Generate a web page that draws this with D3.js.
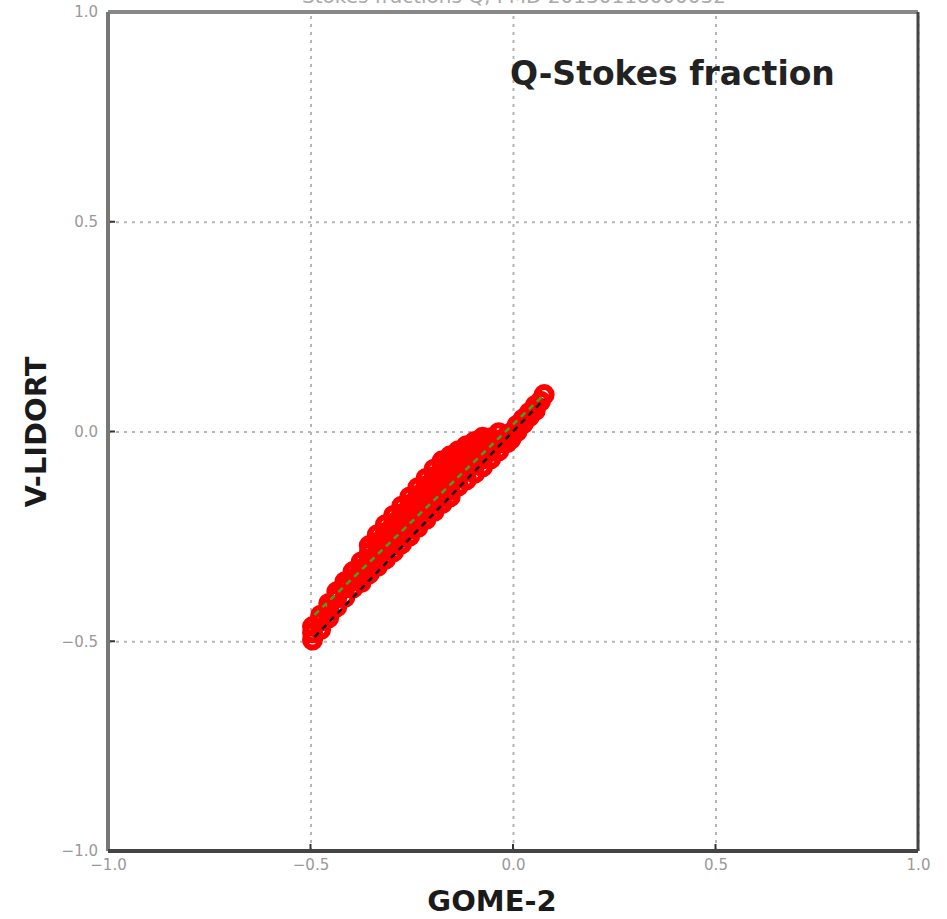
<!DOCTYPE html>
<html>
<head>
<meta charset="utf-8">
<script src="https://cdn.jsdelivr.net/npm/d3@7"></script>
<style>
  body { margin: 0; background: #fff; }
  svg { display: block; }
</style>
</head>
<body>
<div id="chart-area"></div>
<script>
// scatter columns: GOME-2 value and the V-LIDORT values seen at that value
var gomeCols = [-0.495, -0.475, -0.455, -0.435, -0.415, -0.395, -0.375, -0.355, -0.335, -0.315,
    -0.295, -0.275, -0.255, -0.235, -0.215, -0.195, -0.175, -0.155, -0.135, -0.115,
    -0.095, -0.075, -0.055, -0.035, -0.015, -0.005, 0.01, 0.025, 0.04, 0.055, 0.068, 0.077];
var lidortCols = [
    [-0.497, -0.48, -0.465],
    [-0.472, -0.452, -0.438],
    [-0.444, -0.424, -0.41],
    [-0.418, -0.397, -0.382],
    [-0.395, -0.373, -0.358],
    [-0.373, -0.35, -0.334],
    [-0.36, -0.344, -0.328, -0.311],
    [-0.339, -0.323, -0.305, -0.288, -0.272],
    [-0.322, -0.306, -0.285, -0.264, -0.246],
    [-0.305, -0.289, -0.265, -0.241, -0.222],
    [-0.287, -0.271, -0.253, -0.235, -0.218, -0.2],
    [-0.268, -0.252, -0.233, -0.214, -0.196, -0.178],
    [-0.249, -0.233, -0.213, -0.193, -0.174, -0.156],
    [-0.229, -0.213, -0.193, -0.172, -0.152, -0.134],
    [-0.21, -0.194, -0.173, -0.152, -0.13, -0.112],
    [-0.191, -0.175, -0.153, -0.13, -0.108, -0.09],
    [-0.172, -0.156, -0.132, -0.108, -0.085, -0.07],
    [-0.156, -0.14, -0.118, -0.095, -0.073, -0.058],
    [-0.13, -0.107, -0.084, -0.062, -0.046],
    [-0.115, -0.093, -0.072, -0.05, -0.034],
    [-0.1, -0.079, -0.058, -0.038, -0.024],
    [-0.084, -0.065, -0.046, -0.027, -0.014],
    [-0.065, -0.048, -0.032, -0.015],
    [-0.046, -0.028, -0.003],
    [-0.027, -0.01],
    [-0.018, -0.003],
    [0.0, 0.015],
    [0.018, 0.03],
    [0.035, 0.045],
    [0.05, 0.062],
    [0.072],
    [0.088]
];

// end points of the 1:1 line and of the fitted line
var oneToOneX = [-0.49, 0.077];
var oneToOneY = [-0.49, 0.077];
var fitX = [-0.49, 0.077];
var fitY = [-0.437, 0.088];

var tickValues = [-1.0, -0.5, 0.0, 0.5, 1.0];

var margin = { top: 12, bottom: 68, left: 108, right: 29 };
var width = 947 - margin.left - margin.right,
    height = 919 - margin.top - margin.bottom;

var svg = d3.select("#chart-area")
    .append("svg")
        .attr("width", 947)
        .attr("height", 919);

var g = svg.append("g")
    .attr("transform", "translate(" + margin.left + "," + margin.top + ")");

var x = d3.scaleLinear().domain([-1, 1]).range([0, width]);
var y = d3.scaleLinear().domain([-1, 1]).range([height, 0]);

// flatten the columns into points
var points = [];
gomeCols.forEach((gx, i) => {
    lidortCols[i].forEach(ly => points.push({ x: gx, y: ly }));
});

// dotted grid
g.append("g")
    .call(d3.axisBottom(x).tickValues(tickValues).tickSize(-height).tickFormat(""))
    .attr("transform", "translate(0," + height + ")")
    .call(a => a.select(".domain").remove())
    .selectAll("line")
        .attr("stroke", "#b5b5b5")
        .attr("stroke-width", 2)
        .attr("stroke-dasharray", "3,5");

g.append("g")
    .call(d3.axisLeft(y).tickValues(tickValues).tickSize(-width).tickFormat(""))
    .call(a => a.select(".domain").remove())
    .selectAll("line")
        .attr("stroke", "#b5b5b5")
        .attr("stroke-width", 2)
        .attr("stroke-dasharray", "3,5");

// tick labels
var xAxis = g.append("g")
    .attr("transform", "translate(0," + height + ")")
    .call(d3.axisBottom(x).tickValues(tickValues).tickSize(0).tickPadding(8).tickFormat(d3.format(".1f")));
xAxis.select(".domain").remove();
xAxis.selectAll("text")
    .attr("fill", "#999")
    .attr("font-family", "DejaVu Sans")
    .attr("font-size", 15);

var yAxis = g.append("g")
    .call(d3.axisLeft(y).tickValues(tickValues).tickSize(0).tickPadding(10).tickFormat(d3.format(".1f")));
yAxis.select(".domain").remove();
yAxis.selectAll("text")
    .attr("fill", "#999")
    .attr("font-family", "DejaVu Sans")
    .attr("font-size", 15);

// small inward ticks
g.selectAll(".ytk").data(tickValues).enter()
    .append("line")
        .attr("x1", 0).attr("x2", 7)
        .attr("y1", d => y(d)).attr("y2", d => y(d))
        .attr("stroke", "#333").attr("stroke-width", 2);
g.selectAll(".xtk").data(tickValues).enter()
    .append("line")
        .attr("y1", height).attr("y2", height - 7)
        .attr("x1", d => x(d)).attr("x2", d => x(d))
        .attr("stroke", "#333").attr("stroke-width", 2);

// open red circles
g.selectAll("circle")
    .data(points)
    .enter()
    .append("circle")
        .attr("cx", d => x(d.x))
        .attr("cy", d => y(d.y))
        .attr("r", 7.5)
        .attr("fill", "none")
        .attr("stroke", "#ff0000")
        .attr("stroke-width", 6);

// 1:1 line (black) and fit (green)
var line = d3.line().x(d => x(d[0])).y(d => y(d[1]));
g.append("path")
    .attr("d", line(d3.zip(oneToOneX, oneToOneY)))
    .attr("stroke", "#111")
    .attr("stroke-width", 2.5)
    .attr("stroke-dasharray", "6,5")
    .attr("fill", "none");
g.append("path")
    .attr("d", line(d3.zip(fitX, fitY)))
    .attr("stroke", "#33aa22")
    .attr("stroke-width", 2.5)
    .attr("stroke-dasharray", "6,5")
    .attr("fill", "none");

// frame
g.append("line").attr("x1", 0).attr("x2", width).attr("y1", 0).attr("y2", 0)
    .attr("stroke", "#888").attr("stroke-width", 4);
g.append("line").attr("x1", 0).attr("x2", 0).attr("y1", 0).attr("y2", height)
    .attr("stroke", "#777").attr("stroke-width", 4);
g.append("line").attr("x1", 0).attr("x2", width).attr("y1", height).attr("y2", height)
    .attr("stroke", "#444").attr("stroke-width", 4);
g.append("line").attr("x1", width).attr("x2", width).attr("y1", 0).attr("y2", height)
    .attr("stroke", "#444").attr("stroke-width", 3);

// labels
svg.append("text")
    .attr("x", 514).attr("y", 3)
    .attr("text-anchor", "middle")
    .attr("font-family", "DejaVu Sans")
    .attr("font-size", 20)
    .attr("fill", "#aaa")
    .text("Stokes fractions Q, PMD 20130118000032");

svg.append("text")
    .attr("x", 510).attr("y", 85)
    .attr("font-family", "DejaVu Sans")
    .attr("font-weight", "bold")
    .attr("font-size", 33)
    .attr("fill", "#222")
    .text("Q-Stokes fraction");

svg.append("text")
    .attr("x", 492).attr("y", 911)
    .attr("text-anchor", "middle")
    .attr("font-family", "DejaVu Sans")
    .attr("font-weight", "bold")
    .attr("font-size", 29)
    .attr("fill", "#1a1a1a")
    .text("GOME-2");

svg.append("text")
    .attr("transform", "translate(46,432) rotate(-90)")
    .attr("text-anchor", "middle")
    .attr("font-family", "DejaVu Sans")
    .attr("font-weight", "bold")
    .attr("font-size", 29)
    .attr("fill", "#1a1a1a")
    .text("V-LIDORT");
</script>
</body>
</html>
